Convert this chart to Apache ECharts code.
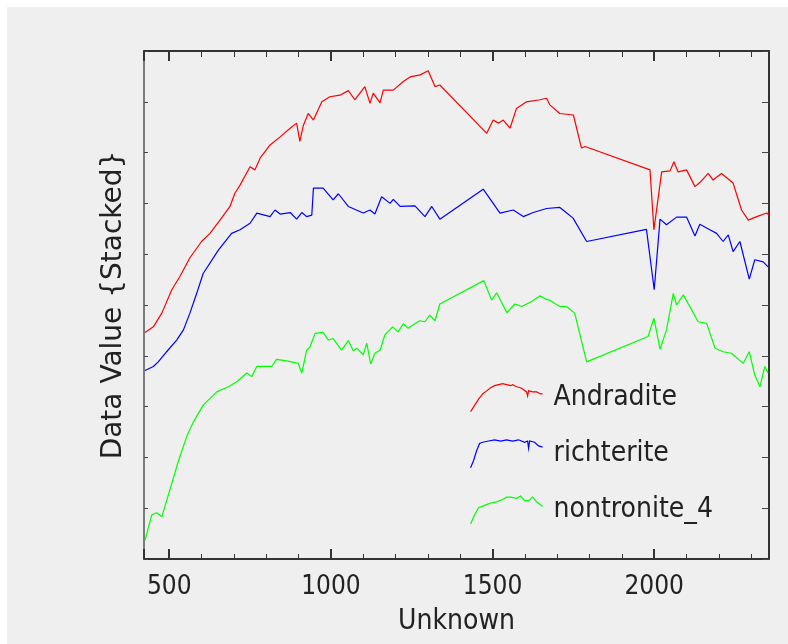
<!DOCTYPE html>
<html>
<head>
<meta charset="utf-8">
<script src="https://cdn.jsdelivr.net/npm/echarts@6/dist/echarts.min.js"></script>
<style>
  html, body { margin: 0; background: #ffffff; }
  body { padding: 7px 0 0 7px; }
  #chart { width: 781px; height: 637px; background: #efefef; }
</style>
</head>
<body>
<div id="chart"></div>
<script>
// spectra (x = wavelength, y = stacked value)
const andraditeX = [425, 451, 477, 508, 533, 564, 600, 626, 657, 688, 703, 719, 750, 765, 781, 812, 843, 874, 894, 904, 915, 930, 946, 972, 997, 1028, 1054, 1074, 1105, 1121, 1131, 1152, 1162, 1193, 1224, 1245, 1276, 1301, 1322, 1337, 1482, 1502, 1518, 1533, 1554, 1574, 1605, 1647, 1667, 1677, 1708, 1750, 1775, 1786, 1987, 1999, 2023, 2049, 2061, 2074, 2100, 2126, 2141, 2167, 2182, 2208, 2244, 2270, 2291, 2317, 2348, 2355]
const andraditeY = [4.46, 4.57, 4.84, 5.30, 5.56, 5.93, 6.25, 6.41, 6.67, 6.94, 7.20, 7.36, 7.72, 7.66, 7.89, 8.15, 8.31, 8.48, 8.58, 8.22, 8.54, 8.77, 8.64, 9.00, 9.10, 9.13, 9.22, 9.04, 9.30, 8.97, 9.17, 8.98, 9.23, 9.23, 9.40, 9.49, 9.53, 9.61, 9.30, 9.33, 8.38, 8.64, 8.58, 8.64, 8.48, 8.87, 9.00, 9.04, 9.07, 8.94, 8.77, 8.74, 8.09, 8.12, 7.66, 6.48, 7.62, 7.64, 7.82, 7.62, 7.66, 7.33, 7.41, 7.59, 7.46, 7.59, 7.40, 6.87, 6.67, 6.74, 6.81, 6.77]

const richteriteX = [425, 451, 466, 492, 523, 544, 564, 585, 605, 652, 693, 719, 750, 771, 812, 827, 843, 874, 894, 910, 925, 941, 946, 976, 1007, 1023, 1054, 1100, 1121, 1136, 1157, 1183, 1193, 1214, 1260, 1291, 1312, 1337, 1471, 1502, 1523, 1564, 1595, 1626, 1667, 1708, 1718, 1749, 1791, 1976, 2000, 2018, 2038, 2069, 2100, 2126, 2141, 2172, 2193, 2213, 2229, 2244, 2265, 2294, 2311, 2337, 2352]
const richteriteY = [3.71, 3.79, 3.88, 4.08, 4.31, 4.51, 4.84, 5.23, 5.62, 6.08, 6.41, 6.48, 6.61, 6.81, 6.74, 6.87, 6.79, 6.82, 6.69, 6.82, 6.74, 6.77, 7.30, 7.30, 7.07, 7.19, 6.94, 6.81, 6.87, 6.79, 7.13, 7.00, 7.08, 6.94, 6.95, 6.74, 6.94, 6.69, 7.28, 7.00, 6.81, 6.87, 6.74, 6.82, 6.90, 6.92, 6.87, 6.71, 6.25, 6.49, 5.30, 6.69, 6.58, 6.73, 6.73, 6.36, 6.59, 6.48, 6.41, 6.25, 6.38, 6.05, 6.25, 5.51, 5.89, 5.85, 5.75]

const nontroniteX = [425, 446, 461, 477, 502, 528, 554, 575, 605, 647, 683, 709, 740, 755, 771, 817, 832, 863, 899, 910, 925, 935, 951, 976, 992, 1007, 1033, 1054, 1069, 1080, 1100, 1111, 1123, 1136, 1152, 1167, 1191, 1208, 1224, 1239, 1255, 1275, 1291, 1306, 1322, 1337, 1473, 1497, 1513, 1544, 1569, 1590, 1621, 1647, 1667, 1678, 1708, 1729, 1754, 1791, 1981, 1999, 2018, 2038, 2059, 2069, 2090, 2136, 2162, 2188, 2213, 2239, 2275, 2294, 2311, 2327, 2342, 2352]
const nontroniteY = [0.36, 0.87, 0.91, 0.83, 1.36, 1.92, 2.41, 2.70, 3.03, 3.29, 3.39, 3.49, 3.66, 3.59, 3.79, 3.79, 3.93, 3.90, 3.85, 3.66, 4.11, 4.17, 4.44, 4.46, 4.31, 4.34, 4.11, 4.30, 4.10, 4.15, 4.02, 4.25, 3.84, 4.05, 4.11, 4.41, 4.57, 4.47, 4.63, 4.54, 4.61, 4.69, 4.67, 4.80, 4.69, 5.02, 5.48, 5.10, 5.24, 4.85, 5.02, 4.97, 5.07, 5.18, 5.11, 5.09, 4.97, 4.97, 4.84, 3.88, 4.38, 4.74, 4.13, 4.51, 5.23, 5.00, 5.20, 4.67, 4.64, 4.15, 4.08, 4.05, 3.85, 4.08, 3.62, 3.39, 3.79, 3.66]

const seriesNames = ['Andradite', 'richterite', 'nontronite_4']
const seriesColors = ['#ff0000', '#0000ff', '#00ff00']
const xMin = 422
const xMax = 2355
const xLabelStep = 500

// little spectrum-shaped legend glyphs
const legendIcons = [
  'path://M0,28 L4,22 L8,16 L12,11 L16,8 L20,5 L24,3 L28,2 L32,1 L36,2 L40,3 L42,2 L46,4 L50,5 L53,7 L56,9 L57,13 L58,8 L62,9 L66,9 L70,11 L72,11',
  'path://M0,28 L3,22 L6,14 L9,8 L12,7 L18,6 L24,5 L30,6 L36,5 L42,6 L48,5 L54,7 L57,6 L58,12 L59,6 L64,7 L68,10 L72,11',
  'path://M0,28 L4,20 L8,14 L14,12 L20,10 L26,9 L32,7 L36,5 L40,5 L46,6 L50,4 L54,8 L58,8 L62,5 L66,9 L72,13'
]

const font = 'DejaVu Sans Condensed'
const xs = [andraditeX, richteriteX, nontroniteX]
const ys = [andraditeY, richteriteY, nontroniteY]

const chart = echarts.init(document.getElementById('chart'))

// no interval: splitNumber 4 makes echarts pick 500 so ticks stay on round values
const frameX = (pos, withLabels) => ({
  type: 'value',
  gridIndex: 0,
  position: pos,
  min: xMin,
  max: xMax,
  splitNumber: 4,
  splitLine: { show: false },
  axisLine: { show: true, onZero: false, lineStyle: { color: '#333', width: 2 } },
  axisTick: { show: true, inside: true, length: 10, lineStyle: { color: '#333', width: 2 } },
  minorTick: { show: true, splitNumber: 5, length: pos === 'top' ? 6 : 5, lineStyle: { color: '#333', width: 1 } },
  axisLabel: {
    show: withLabels,
    fontFamily: font,
    fontSize: 26,
    color: '#222',
    margin: 15,
    formatter: v => (v % xLabelStep === 0 ? String(v) : '')
  }
})

const frameY = pos => ({
  type: 'value',
  gridIndex: 0,
  position: pos,
  min: 0,
  max: 10,
  interval: 1,
  splitLine: { show: false },
  axisLine: { show: true, onZero: false, lineStyle: { color: pos === 'left' ? '#555' : '#333', width: pos === 'left' ? 1.5 : 2 } },
  axisTick: { show: true, inside: true, length: pos === 'left' ? 4 : 7, lineStyle: { color: '#444' } },
  axisLabel: { show: false }
})

const option = {
  animation: false,
  grid: { left: 137, top: 44, right: 19, bottom: 85 },
  legend: {
    orient: 'vertical',
    left: 463,
    top: 376,
    padding: 0,
    itemWidth: 72,
    itemHeight: 28,
    itemGap: 27,
    symbolKeepAspect: false,
    textStyle: { fontFamily: font, fontSize: 28, color: '#222', padding: [0, 0, 0, 6] },
    data: seriesNames.map((n, i) => ({
      name: n,
      icon: legendIcons[i],
      itemStyle: { color: 'transparent', borderColor: seriesColors[i], borderWidth: 1.2 }
    }))
  },
  xAxis: [
    Object.assign(frameX('bottom', true), {
      name: 'Unknown',
      nameLocation: 'middle',
      nameGap: 49,
      nameTextStyle: { fontFamily: font, fontSize: 28, color: '#222' }
    }),
    frameX('top', false)
  ],
  yAxis: [
    Object.assign(frameY('left'), {
      name: 'Data Value {Stacked}',
      nameLocation: 'middle',
      nameGap: 16,
      nameTextStyle: { fontFamily: 'DejaVu Sans', fontSize: 28, color: '#222' }
    }),
    frameY('right')
  ],
  series: seriesNames.map((n, i) => ({
    name: n,
    type: 'line',
    xAxisIndex: 0,
    yAxisIndex: 0,
    showSymbol: false,
    lineStyle: { color: seriesColors[i], width: 1.2 },
    itemStyle: { color: seriesColors[i] },
    data: xs[i].map((x, j) => [x, ys[i][j]])
  }))
}

chart.setOption(option)
</script>
</body>
</html>
